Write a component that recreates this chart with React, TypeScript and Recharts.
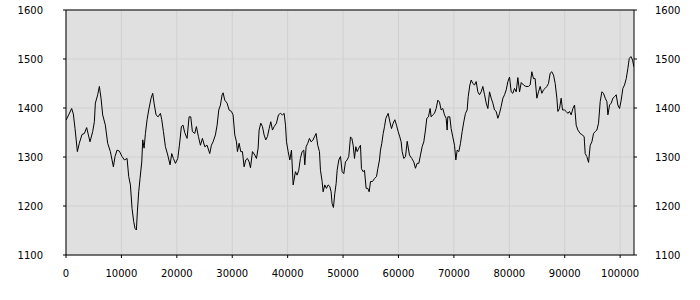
import React from 'react';
import { LineChart, Line, XAxis, YAxis, CartesianGrid, ReferenceLine } from 'recharts';

// sample positions along the x axis
const positions = [
  0, 480, 1020, 1320, 1630, 2050, 2400, 2890, 3310, 3730, 4330, 4820, 5120, 5300, 5720, 6020, 6320, 6620, 7100, 7520,
  8010, 8550, 8850, 9210, 9630, 10110, 10540, 11020, 11320, 11620, 11920, 12220, 12460, 12700, 12880, 13120, 13360, 13670, 13850, 14090,
  14330, 14630, 14930, 15350, 15650, 15890, 16250, 16620, 17040, 17280, 17580, 17940, 18360, 18780, 19080, 19380, 19750, 20170, 20470,
  20820, 21120, 21420, 21850, 22210, 22510, 22810, 23230, 23530, 23890, 24260, 24620, 25040, 25460, 25940, 26240, 26540, 26960, 27270,
  27570, 27870, 28170, 28350, 28650, 29070, 29430, 29850, 30150, 30460, 30760, 30940, 31240, 31540, 31840, 32140, 32440, 32740, 33050,
  33290, 33650, 34070, 34370, 34670, 34850, 35150, 35450, 35750, 36050, 36360, 36660, 36960, 37260, 37560, 37980, 38340, 38700, 39060,
  39370, 39610, 39790, 40090, 40390, 40690, 40990,
  41100, 41400, 41700, 42000, 42300, 42610, 42910, 43090, 43330, 43630, 43930, 44230, 44530, 44830, 45130, 45430, 45740, 45920, 46220,
  46400, 46700, 47000, 47300, 47600, 47840, 48020, 48260, 48510, 48750, 48930, 49230, 49530, 49830, 50130, 50430, 50730, 51030, 51340,
  51580, 51820, 52060, 52300, 52540, 52840, 53140, 53320, 53620, 53860, 54160, 54460, 54710, 54950, 55310, 55670, 56030, 56270, 56570,
  56750, 56990, 57240, 57480, 57720, 58140, 58440, 58740, 59040, 59340, 59640, 59940, 60240, 60480, 60660, 60970, 61270, 61570,
  61980, 62400, 62760, 63060, 63360, 63670, 63970, 64270, 64570, 64870, 65110, 65410, 65710, 65890, 66190, 66490, 66800, 67100, 67400,
  67700, 68000, 68300, 68600, 68780, 68900, 69260, 69500, 69800, 70110, 70350, 70590, 70890, 71190, 71490, 71790, 72090, 72390, 72580,
  72880, 73120, 73420, 73720, 74020, 74320, 74620, 74920, 75220, 75530, 75830, 76130, 76430, 76730, 77030, 77330, 77630, 77930, 78230,
  78530, 78840, 79140, 79440, 79740, 80040, 80340, 80640, 80940, 81240, 81540, 81850, 82150,
  82560, 82980, 83460, 83760, 84060, 84360, 84660, 84970, 85270, 85570, 85870, 86170, 86470, 86770, 87070, 87370, 87670, 87980, 88280,
  88580, 88760, 89060, 89360, 89600, 89960, 90260, 90560, 90860, 91160, 91470, 91770, 92070, 92370, 92790, 93210, 93510, 93690, 93990,
  94300, 94600, 94900, 95200, 95500, 95800, 96100, 96400, 96700, 97000, 97310, 97610, 97790, 98090, 98390, 98690, 98990, 99290, 99590,
  99890, 100190, 100490, 100790, 101100, 101400, 101640, 101940, 102240, 102480,
];

// series values at each position
const values = [
  1375, 1386, 1399, 1388, 1358, 1311, 1328, 1346, 1348, 1360, 1331, 1352, 1372, 1410, 1427, 1444, 1420, 1386, 1365, 1328,
  1311, 1280, 1301, 1314, 1312, 1301, 1294, 1297, 1260, 1243, 1195, 1168, 1154, 1151, 1188, 1229, 1256, 1290, 1335, 1318,
  1348, 1376, 1396, 1420, 1430, 1410, 1386, 1382, 1389, 1376, 1352, 1321, 1304, 1284, 1307, 1297, 1287, 1297, 1324,
  1362, 1365, 1350, 1338, 1382, 1382, 1352, 1348, 1362, 1342, 1324, 1338, 1321, 1324, 1307, 1324, 1331, 1345, 1365,
  1396, 1406, 1427, 1431, 1416, 1410, 1396, 1393, 1386, 1345, 1331, 1311, 1328, 1311, 1311, 1280, 1294, 1297, 1290,
  1278, 1311, 1304, 1297, 1318, 1355, 1369, 1362, 1345, 1335, 1342, 1358, 1372, 1355, 1362, 1369, 1386, 1389, 1386,
  1389, 1365, 1331, 1311, 1294, 1314, 1243,
  1250, 1270, 1263, 1273, 1297, 1311, 1314, 1284, 1321, 1328, 1338, 1331, 1334, 1341, 1348, 1324, 1311, 1273, 1250,
  1229, 1243, 1236, 1243, 1240, 1229, 1205, 1197, 1226, 1246, 1273, 1294, 1301, 1270, 1266, 1290, 1294, 1301, 1341,
  1338, 1324, 1297, 1321, 1311, 1318, 1324, 1276, 1270, 1273, 1236, 1236, 1229, 1250, 1250, 1256, 1260, 1276, 1294,
  1314, 1328, 1348, 1362, 1379, 1389, 1372, 1358, 1369, 1376, 1365, 1352, 1341, 1331, 1311, 1297, 1301, 1332,
  1304, 1297, 1290, 1277, 1287, 1287, 1304, 1321, 1331, 1355, 1379, 1382, 1399, 1382, 1386, 1389, 1399, 1416, 1412,
  1396, 1399, 1386, 1379, 1355, 1382, 1382, 1358, 1341, 1324, 1294, 1314, 1311, 1328, 1352, 1372, 1389, 1396, 1423,
  1447, 1457, 1450, 1447, 1454, 1433, 1427, 1433, 1444, 1427, 1410, 1399, 1433, 1420, 1410, 1396, 1393, 1379, 1389,
  1403, 1420, 1427, 1437, 1454, 1463, 1433, 1430, 1440, 1433, 1462, 1433, 1452,
  1447, 1444, 1444, 1447, 1474, 1460, 1460, 1420, 1433, 1444, 1430, 1437, 1440, 1444, 1450, 1471, 1474, 1467, 1450,
  1420, 1393, 1399, 1420, 1396, 1396, 1393, 1389, 1393, 1386, 1399, 1406, 1365, 1355, 1348, 1345, 1341, 1307, 1301,
  1289, 1324, 1331, 1348, 1352, 1355, 1369, 1413, 1433, 1430, 1420, 1413, 1386, 1406, 1410, 1420, 1423, 1427, 1406,
  1399, 1416, 1440, 1447, 1460, 1481, 1501, 1505, 1498, 1484,
];

const xTicks = [0, 10000, 20000, 30000, 40000, 50000, 60000, 70000, 80000, 90000, 100000];
const yTicks = [1100, 1200, 1300, 1400, 1500, 1600];

const data = positions.map((x, i) => ({ x, value: values[i] }));

const tickStyle = { fill: '#000', fontSize: 10, fontFamily: 'DejaVu Sans' };

const App: React.FC = () => (
  <div style={{ position: 'absolute', left: 0, top: 0, background: '#fff' }}>
    <LineChart width={700} height={300} data={data} margin={{ top: 10, right: 0, bottom: 0, left: 0 }}>
      <CartesianGrid fill="#e0e0e0" stroke="#d0d0d0" verticalValues={xTicks} horizontalValues={yTicks} />
      <XAxis
        dataKey="x"
        type="number"
        domain={[0, 102500]}
        ticks={xTicks}
        allowDataOverflow
        height={45}
        tickSize={3}
        tickMargin={12}
        stroke="#000"
        tick={tickStyle}
      />
      <YAxis
        domain={[1100, 1600]}
        ticks={yTicks}
        width={66}
        tickSize={3}
        tickMargin={20}
        stroke="#000"
        tick={tickStyle}
      />
      <YAxis
        yAxisId="right"
        orientation="right"
        domain={[1100, 1600]}
        ticks={yTicks}
        width={66}
        tickSize={3}
        tickMargin={18}
        stroke="#000"
        tick={{ ...tickStyle, textAnchor: 'start' }}
      />
      <ReferenceLine y={1600} stroke="#000" />
      <Line
        yAxisId="right"
        type="linear"
        dataKey="value"
        stroke="none"
        dot={false}
        isAnimationActive={false}
      />
      <Line
        type="linear"
        dataKey="value"
        stroke="#000"
        strokeWidth={1}
        dot={false}
        isAnimationActive={false}
      />
    </LineChart>
  </div>
);

export default App;
